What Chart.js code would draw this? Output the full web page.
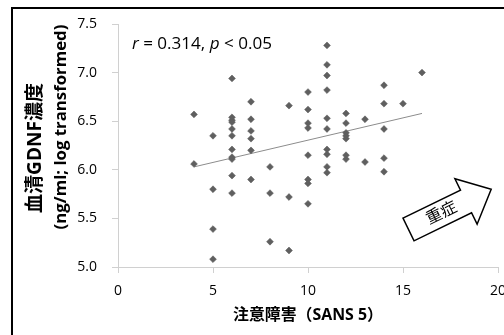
<!DOCTYPE html>
<html><head><meta charset="utf-8">
<script src="https://cdn.jsdelivr.net/npm/chart.js@4"></script>
<style>html,body{margin:0;padding:0;overflow:hidden;background:#fff}#wrap{width:540px;height:335px;position:relative}</style>
</head><body><div id="wrap"><canvas id="c" width="540" height="335"></canvas></div>
<script>
// SANS 5 score (x) and serum GDNF (log) (y), paired
const scoreX = [4,4, 5,5,5,5, 6,6,6,6,6,6,6,6,6,6,6, 7,7,7,7,7,7, 8,8,8, 9,9,9,
  10,10,10,10,10,10,10,10, 11,11,11,11,11,11,11,11,11,11, 12,12,12,12,12,12,12, 13,13, 14,14,14,14,14, 15, 16];
const gdnfY = [6.57,6.06, 6.35,5.80,5.39,5.08, 6.94,6.54,6.51,6.49,6.42,6.35,6.21,6.13,6.11,5.94,5.76,
  6.70,6.52,6.40,6.32,6.20,5.90, 6.03,5.76,5.26, 6.66,5.72,5.17,
  6.80,6.62,6.48,6.43,6.15,5.90,5.86,5.65,
  7.28,7.08,6.97,6.82,6.53,6.42,6.21,6.16,6.03,5.97,
  6.58,6.48,6.38,6.35,6.32,6.15,6.11, 6.52,6.08, 6.87,6.68,6.42,6.12,5.98, 6.68, 7.00];
const trendX = [4, 16];
const trendY = [6.03, 6.58];
const xTicks = [0, 5, 10, 15, 20];
const yTicks = [5.0, 5.5, 6.0, 6.5, 7.0, 7.5];
const xTitle = '注意障害（SANS 5）';
const yTitle1 = '血清GDNF濃度';
const yTitle2 = '(ng/ml; log transformed)';
const arrowText = '重症';

const FONT = "'Open Sans', 'Noto Sans CJK JP', sans-serif";
const axisCol = '#d0d0d0';

const points = scoreX.map((x, i) => ({x, y: gdnfY[i]}));
const trend = trendX.map((x, i) => ({x, y: trendY[i]}));

function fitFont(ctx, text, style, target) {
  ctx.font = style + "20px " + FONT;
  const w = ctx.measureText(text).width;
  const size = 20 * target / w;
  ctx.font = style + size.toFixed(2) + "px " + FONT;
}

const deco = {
  id: 'deco',
  afterDraw(chart) {
    const ctx = chart.ctx;
    ctx.save();
    // outer border
    ctx.strokeStyle = '#000'; ctx.lineWidth = 2;
    ctx.strokeRect(12, 8, 600, 400);
    ctx.fillStyle = '#000';
    ctx.textAlign = 'center'; ctx.textBaseline = 'middle';
    // y titles
    ctx.save(); ctx.translate(36, 148); ctx.rotate(-Math.PI/2);
    fitFont(ctx, yTitle1, 'bold ', 130); ctx.fillText(yTitle1, 0, 0); ctx.restore();
    ctx.save(); ctx.translate(61, 127); ctx.rotate(-Math.PI/2);
    fitFont(ctx, yTitle2, 'bold ', 205); ctx.fillText(yTitle2, 0, 0); ctx.restore();
    // x title
    fitFont(ctx, xTitle, 'bold ', 150); ctx.fillText(xTitle, 308, 315);
    // annotation (scaled to its width in the reference)
    ctx.textAlign = 'left';
    const parts = [['italic ', 'r'], ['', ' = 0.314, '], ['italic ', 'p'], ['', ' < 0.05']];
    let total = 0;
    for (const [st, t] of parts) { ctx.font = st + "20px " + FONT; total += ctx.measureText(t).width; }
    const sz = (20 * 140 / total).toFixed(2);
    let x = 132; const y = 44;
    for (const [st, t] of parts) {
      ctx.font = st + sz + "px " + FONT;
      ctx.fillText(t, x, y);
      x += ctx.measureText(t).width;
    }
    // block arrow
    ctx.save();
    ctx.translate(408.5, 229.5);
    ctx.rotate(-26 * Math.PI / 180);
    ctx.beginPath();
    ctx.moveTo(0, -12.6); ctx.lineTo(64, -12.6); ctx.lineTo(64, -25.3); ctx.lineTo(92, 0);
    ctx.lineTo(64, 25.3); ctx.lineTo(64, 12.6); ctx.lineTo(0, 12.6); ctx.closePath();
    ctx.fillStyle = '#fff'; ctx.fill();
    ctx.lineWidth = 1.5; ctx.strokeStyle = '#000'; ctx.stroke();
    ctx.fillStyle = '#000'; ctx.font = "16px " + FONT; ctx.textAlign = 'center';
    ctx.fillText(arrowText, 37, 0);
    ctx.restore();
    ctx.restore();
  }
};

new Chart(document.getElementById('c'), {
  type: 'scatter',
  data: {
    datasets: [
      {data: trend, type: 'line', borderColor: '#8c8c8c', borderWidth: 1, pointRadius: 0, fill: false, order: 2},
      {data: points, pointStyle: 'rectRot', pointRadius: 3.4, pointBackgroundColor: '#5f5f5f', pointBorderColor: '#5f5f5f', pointBorderWidth: 0.6, order: 1}
    ]
  },
  options: {
    responsive: false, animation: false, devicePixelRatio: 1,
    layout: {padding: {left: 0, top: 24, right: 42, bottom: 0}},
    plugins: {legend: {display: false}, tooltip: {enabled: false}},
    scales: {
      x: {
        type: 'linear', min: 0, max: 20,
        afterBuildTicks: s => { s.ticks = xTicks.map(v => ({value: v})); },
        afterFit: s => { s.height = 68; },
        grid: {drawOnChartArea: false, drawTicks: true, tickLength: 6, color: axisCol},
        border: {display: true, color: axisCol},
        ticks: {font: {family: FONT, size: 14}, color: '#000', padding: 10, maxRotation: 0}
      },
      y: {
        min: 5, max: 7.5,
        afterBuildTicks: s => { s.ticks = yTicks.map(v => ({value: v})); },
        afterFit: s => { s.width = 118; },
        grid: {drawOnChartArea: false, drawTicks: true, tickLength: 6, color: axisCol},
        border: {display: true, color: axisCol},
        ticks: {font: {family: FONT, size: 14}, color: '#000', padding: 15, callback: v => Number(v).toFixed(1)}
      }
    }
  },
  plugins: [deco]
});
</script></body></html>
